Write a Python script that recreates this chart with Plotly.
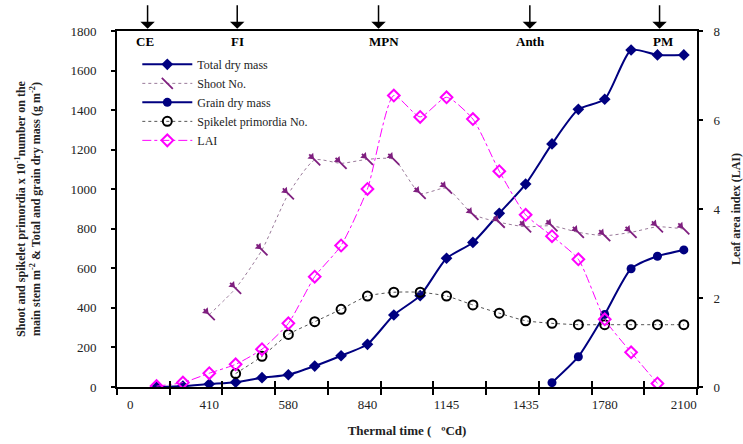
import plotly.graph_objects as go

# ---------------- data ----------------
# 22 equally spaced categories on the thermal-time axis (Excel line chart); data in categories 1..21
category_index = list(range(1, 22))
tick_label_index = [0, 3, 6, 9, 12, 15, 18, 21]
tick_labels = ["0", "410", "580", "840", "1145", "1435", "1780", "2100"]

total_dry_mass = [0, 5, 15, 24, 47, 62, 106, 158, 216, 364, 462, 651, 731, 878, 1026,
                  1229, 1404, 1455, 1704, 1679, 1679]
shoot_no = [None, None, 366, 499, 693, 976, 1148, 1131, 1151, 1151, 979, 1005, 873, 833,
            810, 815, 782, 765, 782, 810, 799]
grain_dry_mass = [None] * 15 + [22, 153, 367, 598, 661, 693]
spikelet_no = [None, None, None, 68, 155, 266, 330, 393, 460, 479, 479, 460, 415, 373,
               335, 322, 315, 315, 315, 315, 315]
lai = [0.02, 0.10, 0.31, 0.51, 0.85, 1.43, 2.48, 3.18, 4.45, 6.55, 6.07, 6.51, 6.02, 4.85,
       3.87, 3.39, 2.87, 1.52, 0.78, 0.08, None]

stage_names = ["CE", "FI", "MPN", "Anth", "PM"]
stage_arrow_pos = [0.58, 2.28, 4.96, 7.83, 10.29]   # in tick-interval units
stage_label_pos = [0.53, 2.28, 5.06, 7.85, 10.36]

# ---------------- helpers ----------------
def cat_pos(i):
    return 0.25 + 0.5 * i

x = [cat_pos(i) for i in category_index]
xtick_pos = [cat_pos(i) for i in tick_label_index]

NAVY = "#000080"
PURPLE = "#7F1F7F"
MAGENTA = "#FF00FF"
SERIF = "Times New Roman, Liberation Serif, serif"
TXT = "#222222"

fig = go.Figure()

fig.add_trace(go.Scatter(
    x=x, y=total_dry_mass, name="Total dry mass", mode="lines+markers",
    line=dict(color=NAVY, width=2, shape="spline", smoothing=0.6),
    marker=dict(symbol="diamond", size=9, color=NAVY)))

# Shoot No.: arrow-like marker = diagonal shaft + small head pushed to its lower-right end
fig.add_trace(go.Scatter(
    x=x, y=shoot_no, name="Shoot No.", mode="lines+markers", legendgroup="shoot",
    line=dict(color="#9A7A9A", width=1, dash="dot", shape="spline", smoothing=0.6),
    marker=dict(symbol="line-nw", size=11, color=PURPLE,
                line=dict(width=1.8, color=PURPLE))))
fig.add_trace(go.Scatter(
    x=x, y=shoot_no, name="Shoot No.", mode="markers", legendgroup="shoot",
    showlegend=False, hoverinfo="skip",
    marker=dict(symbol="triangle-up", size=7, angle=135, standoff=4.5,
                color=PURPLE, line=dict(width=0))))

fig.add_trace(go.Scatter(
    x=x, y=grain_dry_mass, name="Grain dry mass", mode="lines+markers",
    line=dict(color=NAVY, width=2, shape="spline", smoothing=0.6),
    marker=dict(symbol="circle", size=9, color=NAVY)))

fig.add_trace(go.Scatter(
    x=x, y=spikelet_no, name="Spikelet primordia No.", mode="lines+markers",
    line=dict(color="#555555", width=1, dash="dot", shape="spline", smoothing=0.6),
    marker=dict(symbol="circle-open", size=9, color="black", line=dict(width=2))))

fig.add_trace(go.Scatter(
    x=x, y=lai, name="LAI", mode="lines+markers", yaxis="y2",
    line=dict(color=MAGENTA, width=1, dash="dashdot", shape="spline", smoothing=0.6),
    marker=dict(symbol="diamond-open", size=9, color=MAGENTA, line=dict(width=2))))

# dummy trace for the overlaying x axis (inside half of the crossing tick marks)
fig.add_trace(go.Scatter(x=[None], y=[None], xaxis="x2", showlegend=False, hoverinfo="skip"))

annotations = []
for name, ap, lp in zip(stage_names, stage_arrow_pos, stage_label_pos):
    annotations.append(dict(
        x=ap, y=1.006, xref="x", yref="paper", text="", showarrow=True,
        ax=0, ay=-25, arrowhead=1, arrowsize=1.6, arrowwidth=1.5, arrowcolor="black"))
    annotations.append(dict(
        x=lp, y=0.97, xref="x", yref="paper", text="<b>" + name + "</b>", showarrow=False,
        font=dict(family=SERIF, size=13, color="black"), xanchor="center", yanchor="middle"))

fig.update_layout(
    width=743, height=444,
    margin=dict(l=117, r=46, t=31, b=57, autoexpand=False),
    plot_bgcolor="white", paper_bgcolor="white",
    font=dict(family=SERIF, size=13, color=TXT),
    showlegend=True,
    legend=dict(x=0.035, y=0.947, xanchor="left", yanchor="top",
                bgcolor="rgba(0,0,0,0)", font=dict(family=SERIF, size=12, color=TXT),
                tracegroupgap=0, itemwidth=50),
    xaxis=dict(
        range=[0, 11], showgrid=False, zeroline=False, automargin=False,
        showline=True, linecolor="black", linewidth=2, mirror=True,
        tickmode="array", tickvals=xtick_pos, ticktext=tick_labels, ticks="",
        ticklabelstandoff=4,
        minor=dict(tickmode="array", tickvals=list(range(12)), ticks="outside",
                   ticklen=6, tickwidth=2, tickcolor="black"),
        title=dict(text="<b>Thermal time (   ºCd)</b>", font=dict(family=SERIF, size=13, color=TXT),
                   standoff=15),
    ),
    xaxis2=dict(
        range=[0, 11], overlaying="x", side="bottom", showgrid=False, zeroline=False,
        automargin=False,
        showline=False, tickmode="array", tickvals=list(range(12)), ticks="inside",
        ticklen=6, tickwidth=2, tickcolor="black", showticklabels=False,
    ),
    yaxis=dict(
        range=[0, 1800], dtick=200, showgrid=False, zeroline=False, automargin=False,
        showline=True, linecolor="black", linewidth=2,
        ticks="outside", ticklen=4, tickwidth=1.5, tickcolor="black",
        ticklabelstandoff=12,
        title=dict(text="<b>Shoot and spikelet primordia x 10<sup>-1</sup>number on the<br>"
                        "main stem m<sup>-2</sup> & Total and grain dry mass (g m<sup>-2</sup>)</b>",
                   font=dict(family=SERIF, size=12, color=TXT), standoff=27),
    ),
    yaxis2=dict(
        range=[0, 8], dtick=2, overlaying="y", side="right", showgrid=False, zeroline=False,
        automargin=False,
        showline=True, linecolor="black", linewidth=2,
        ticks="outside", ticklen=4, tickwidth=1.5, tickcolor="black",
        ticklabelstandoff=8,
        title=dict(text="<b>Leaf area index (LAI)</b>", font=dict(family=SERIF, size=12, color=TXT),
                   standoff=12),
    ),
    annotations=annotations,
)

# the page body has a default 8px margin; remove it so the figure fills the window
fig.write_html("out.html", config={"displayModeBar": False},
               post_script="document.body.style.margin='0';")
